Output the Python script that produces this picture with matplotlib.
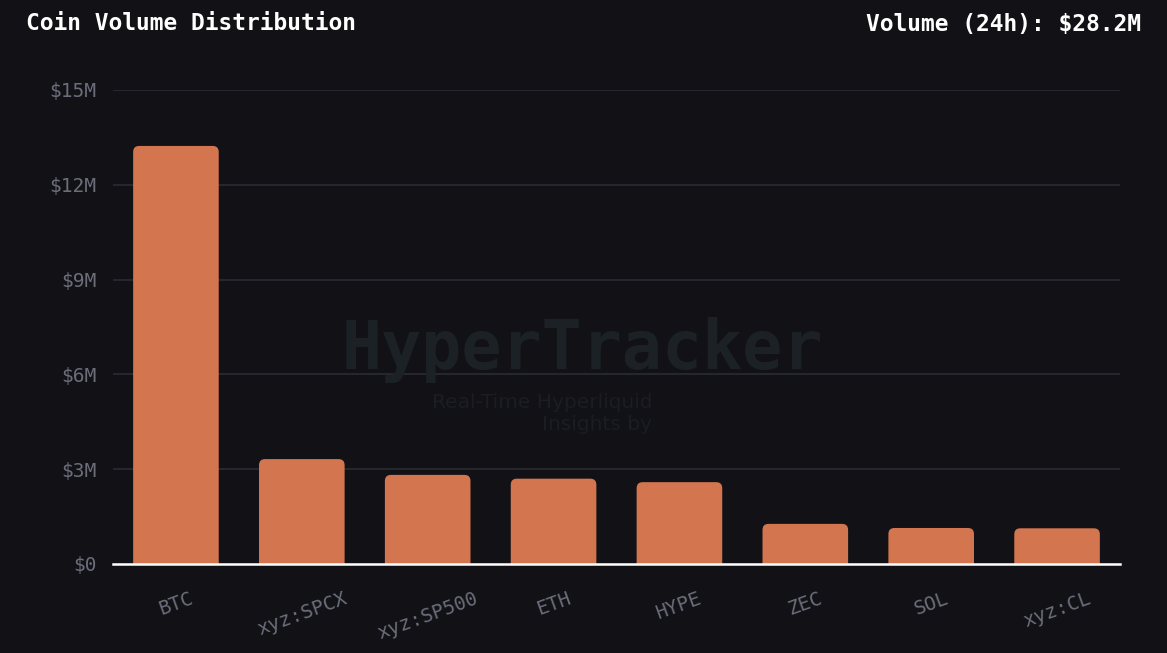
import matplotlib
matplotlib.use('Agg')
import matplotlib.pyplot as plt
from matplotlib.patches import FancyBboxPatch
from matplotlib.ticker import FuncFormatter

# 数据
coins = ['BTC', 'xyz:SPCX', 'xyz:SP500', 'ETH', 'HYPE', 'ZEC', 'SOL', 'xyz:CL']
volumes = [13.23, 3.32, 2.82, 2.70, 2.59, 1.27, 1.14, 1.13]   # 单位: 百万美元
y_ticks = [0, 3, 6, 9, 12, 15]
total_volume = '$28.2M'

bg = '#111116'
bar_color = '#D3764F'
tick_color = '#6b6e7a'
mono = ['DejaVu Sans Mono']

fig = plt.figure(figsize=(11.67, 6.53), dpi=100, facecolor=bg)
ax = fig.add_axes([113 / 1167, 1 - 564 / 653, (1120 - 113) / 1167, (564 - 90) / 653])
ax.set_facecolor(bg)

x = range(len(coins))
bars = ax.bar(x, volumes, width=0.68, color=bar_color, zorder=3)
ax.set_xlim(-0.5, len(coins) - 0.5)
ax.set_ylim(0, 15)

# 圆角柱顶：用FancyBboxPatch替换原来的矩形，底部伸到0以下被裁掉
px_x = (1120 - 113) / len(coins)
px_y = (564 - 90) / 15
for b in bars:
    r = 6 / px_x
    p = FancyBboxPatch((b.get_x(), -1), b.get_width(), b.get_height() + 1,
                       boxstyle=f'round,pad=0,rounding_size={r}',
                       mutation_aspect=px_x / px_y,
                       facecolor=bar_color, edgecolor='none', zorder=3)
    ax.add_patch(p)
    b.set_visible(False)

# 网格与坐标轴
ax.set_yticks(y_ticks)
ax.yaxis.set_major_formatter(FuncFormatter(lambda v, _: '$0' if v == 0 else f'${int(v)}M'))
ax.grid(axis='y', color='#2b2c33', linewidth=1.2, zorder=0)
for s in ['top', 'right', 'left']:
    ax.spines[s].set_visible(False)
ax.spines['bottom'].set_color('white')
ax.spines['bottom'].set_linewidth(1.8)
ax.spines['bottom'].set_zorder(4)
ax.tick_params(axis='both', length=0, colors=tick_color, labelsize=14)
ax.tick_params(axis='y', pad=12)
ax.tick_params(axis='x', pad=18)
ax.set_xticks(list(x))
ax.set_xticklabels(coins, rotation=20, ha='center', family=mono)
for t in ax.get_yticklabels():
    t.set_family(mono)

# 水印
fig.text(582 / 1167, 1 - 350 / 653, 'HyperTracker', color='#1b2125', fontsize=48,
         fontweight='bold', family=mono, ha='center', va='center', zorder=1)
fig.text(652 / 1167, 1 - 403 / 653, 'Real-Time Hyperliquid', color='#1a1d22', fontsize=14.5,
         family=['DejaVu Sans'], ha='right', va='center')
fig.text(652 / 1167, 1 - 425 / 653, 'Insights by', color='#1a1d22', fontsize=14.5,
         family=['DejaVu Sans'], ha='right', va='center')

# 标题
fig.text(26 / 1167, 1 - 24 / 653, 'Coin Volume Distribution', color='white', fontsize=16.5,
         fontweight='bold', family=mono, ha='left', va='center')
fig.text(1141 / 1167, 1 - 24 / 653, f'Volume (24h): {total_volume}', color='white', fontsize=16.5,
         fontweight='bold', family=mono, ha='right', va='center')

fig.savefig('out.png', dpi=100, facecolor=bg)
